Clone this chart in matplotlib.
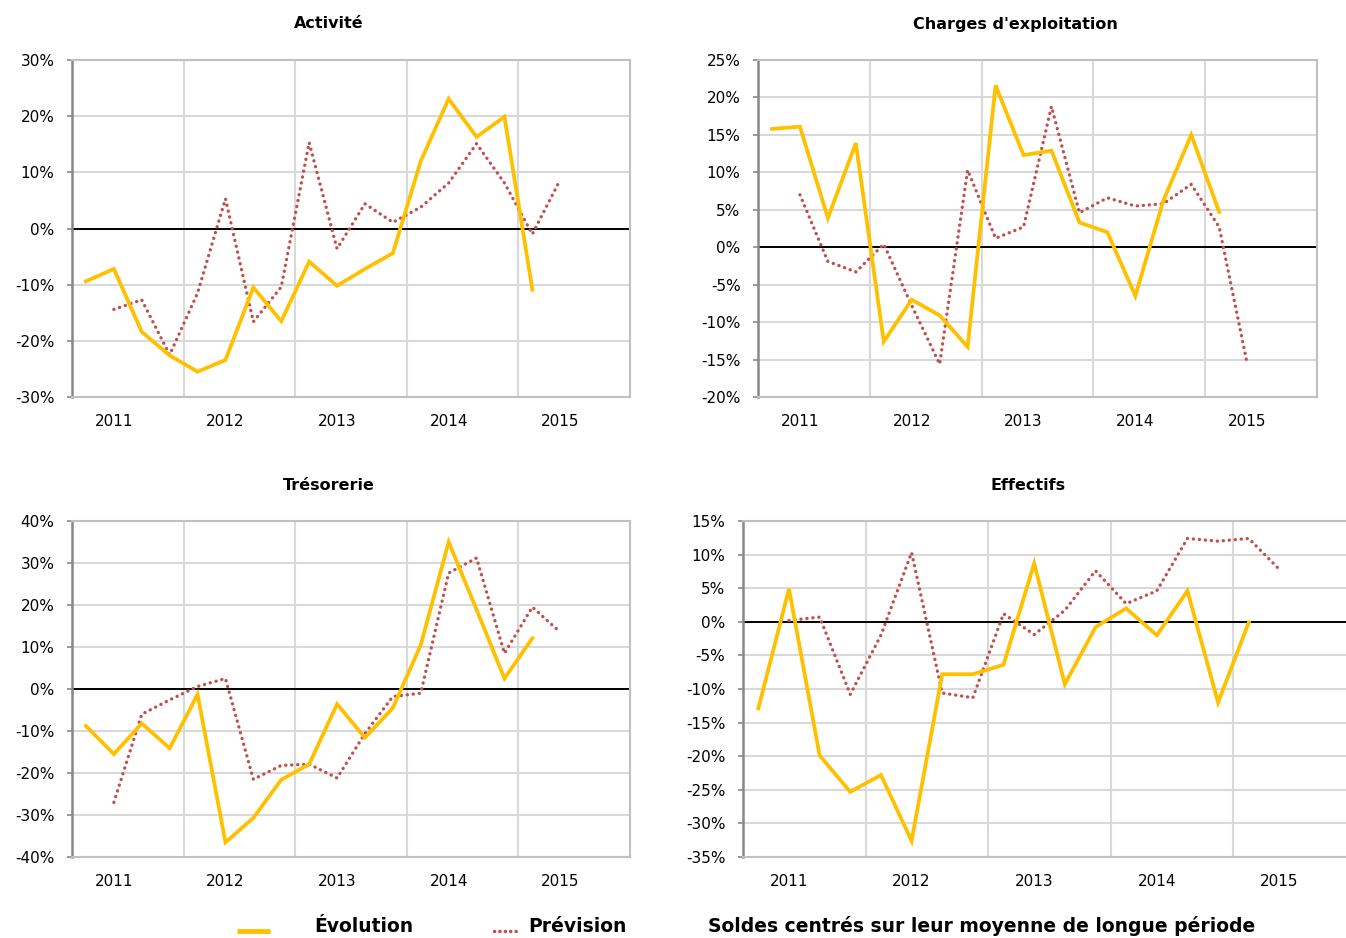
import numpy as np
import matplotlib
matplotlib.use("Agg")
import matplotlib.pyplot as plt
from matplotlib.ticker import FixedLocator, FuncFormatter

# quarterly balances, Q1 2011 .. Q4 2015 (20 slots)
years = ["2011", "2012", "2013", "2014", "2015"]

activite_evol = [-9.4, -7.2, -18.4, -22.6, -25.5, -23.4, -10.5, -16.5, -5.9,
                 -10.2, -7.2, -4.4, 12.0, 23.1, 16.3, 19.9, -10.9]
activite_prev = [-14.4, -12.7, -22.5, -11.5, 5.3, -16.6, -10.4, 15.3, -3.6,
                 4.4, 1.1, 3.8, 8.1, 15.1, 8.1, -1.0, 8.7]

charges_evol = [15.8, 16.1, 3.9, 13.9, -12.6, -7.0, -9.1, -13.3, 21.6,
                12.3, 12.9, 3.3, 2.0, -6.5, 6.2, 15.0, 4.7]
charges_prev = [7.0, -1.9, -3.3, 0.4, -7.8, -15.6, 10.3, 1.2, 2.7,
                18.8, 4.6, 6.6, 5.5, 5.8, 8.4, 2.7, -15.5]

treso_evol = [-8.8, -15.5, -8.2, -14.1, -1.3, -36.5, -30.7, -21.6, -17.9,
              -3.6, -11.6, -4.5, 10.5, 35.0, 18.9, 2.5, 12.1]
treso_prev = [-27.0, -6.0, -2.6, 0.6, 2.5, -21.5, -18.2, -17.9, -21.2,
              -10.6, -1.8, -1.0, 27.6, 31.2, 8.5, 19.5, 13.5]

effectifs_evol = [-12.9, 4.9, -19.9, -25.3, -22.8, -32.6, -7.8, -7.8, -6.4,
                  8.7, -9.3, -0.8, 2.0, -2.0, 4.6, -12.0, -0.1]
effectifs_prev = [0.2, 0.7, -10.8, -2.0, 10.3, -10.6, -11.3, 1.2, -1.9,
                  1.7, 7.6, 2.7, 4.6, 12.4, 12.0, 12.4, 7.8]

ORANGE = "#FFC000"
RED = "#C0504D"
W, H = 1346, 938

fig = plt.figure(figsize=(W / 100, H / 100), dpi=100)


def px_axes(left, top, right, bottom):
    return fig.add_axes([left / W, 1 - bottom / H, (right - left) / W, (bottom - top) / H])


def draw_panel(rect, title, title_x, title_y, evol, prev, ymin, ymax, step):
    ax = px_axes(*rect)
    x_evol = np.arange(len(evol))
    x_prev = np.arange(1, len(prev) + 1)
    ax.set_xlim(-0.5, 19.5)
    ax.set_ylim(ymin, ymax)
    ax.set_yticks(np.arange(ymin, ymax + step / 2, step))
    ax.yaxis.set_major_formatter(FuncFormatter(lambda v, p: "%d%%" % round(v)))
    ax.yaxis.grid(True, color="#D9D9D9", lw=1.5)
    ax.xaxis.set_major_locator(FixedLocator([1, 5, 9, 13, 17]))
    ax.set_xticklabels(years)
    ax.xaxis.set_minor_locator(FixedLocator([3.5, 7.5, 11.5, 15.5]))
    ax.xaxis.grid(True, which="minor", color="#D9D9D9", lw=1.5)
    ax.tick_params(axis="x", which="both", length=0, pad=12, labelsize=11)
    ax.tick_params(axis="y", length=3.6, width=1.2, color="#888888", pad=9, labelsize=11)
    for s in ["top", "right", "bottom"]:
        ax.spines[s].set_color("#C0C0C0")
        ax.spines[s].set_linewidth(1.5)
    ax.spines["left"].set_color("#888888")
    ax.spines["left"].set_linewidth(1.8)
    ax.set_axisbelow(True)
    ax.axhline(0, color="black", lw=1.4, zorder=2)
    ax.plot(x_prev, prev, color=RED, lw=2.4, linestyle=(0, (0.05, 1.75)),
            dash_capstyle="round", zorder=3)
    ax.plot(x_evol, evol, color=ORANGE, lw=2.7, solid_joinstyle="miter", zorder=4)
    fig.text(title_x / W, 1 - title_y / H, title, ha="center", va="center",
             fontsize=11.5, fontweight="bold")
    return ax


draw_panel((72, 60, 630, 397), "Activité", 329, 24,
           activite_evol, activite_prev, -30, 30, 10)
draw_panel((758, 60, 1317, 397), "Charges d'exploitation", 1015, 24,
           charges_evol, charges_prev, -20, 25, 5)
draw_panel((72, 521, 630, 857), "Trésorerie", 329, 485,
           treso_evol, treso_prev, -40, 40, 10)
draw_panel((743, 521, 1356, 857), "Effectifs", 1028, 485,
           effectifs_evol, effectifs_prev, -35, 15, 5)

# legend row at the bottom
leg = fig.add_axes([0, 0, 1, 1], frameon=False)
leg.set_xlim(0, W)
leg.set_ylim(H, 0)
leg.set_axis_off()
leg.plot([237, 270], [931, 931], color=ORANGE, lw=3.5, solid_capstyle="butt")
leg.plot([494, 520], [931, 931], color=RED, lw=2.5, linestyle=(0, (0.05, 1.5)),
         dash_capstyle="round")
leg.text(364, 926, "Évolution", ha="center", va="center", fontsize=13.5, fontweight="bold")
leg.text(577, 926, "Prévision", ha="center", va="center", fontsize=13.5, fontweight="bold")
leg.text(982, 926, "Soldes centrés sur leur moyenne de longue période", ha="center",
         va="center", fontsize=13.5, fontweight="bold")

fig.savefig("out.png", dpi=100)
